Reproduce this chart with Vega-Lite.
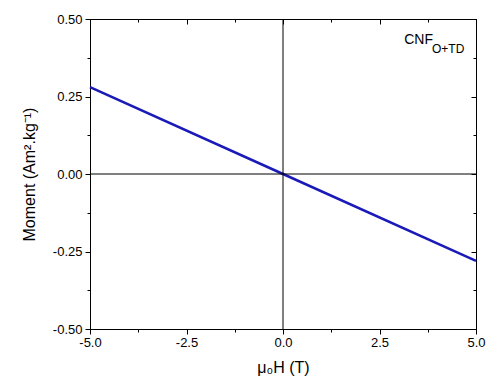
{
  "$schema": "https://vega.github.io/schema/vega-lite/v6.json",
  "width": 386,
  "height": 310,
  "autosize": {"type": "none"},
  "padding": {"left": 90, "top": 19, "right": 15, "bottom": 56},
  "background": "white",
  "config": {
    "view": {"stroke": "black", "strokeWidth": 1},
    "font": "Liberation Sans",
    "axis": {"grid": false, "domainColor": "black", "tickColor": "black", "labelColor": "black", "titleColor": "black", "labelFont": "Liberation Sans", "titleFont": "Liberation Sans", "labelFontSize": 13, "titleFontSize": 16, "titleFontWeight": "normal", "tickWidth": 1, "domainWidth": 1, "labelFlush": false, "labelExpr": "replace(datum.label, '−', '-')"}
  },
  "resolve": {"axis": {"x": "independent", "y": "independent"}},
  "layer": [
    {
      "data": {"values": [{"H": -5, "M": 0.28}, {"H": 0, "M": 0}, {"H": 5, "M": -0.28}]},
      "mark": {"type": "line", "color": "#1a1ab8", "strokeWidth": 2.5},
      "encoding": {
        "x": {"field": "H", "type": "quantitative", "scale": {"domain": [-5, 5], "nice": false, "zero": false},
              "axis": {"orient": "bottom", "values": [-5, -2.5, 0, 2.5, 5], "format": ".1f", "title": "μ₀H (T)", "tickSize": 5, "labelPadding": 2, "titlePadding": 10}},
        "y": {"field": "M", "type": "quantitative", "scale": {"domain": [-0.5, 0.5], "nice": false},
              "axis": {"orient": "left", "values": [-0.5, -0.25, 0, 0.25, 0.5], "format": ".2f", "title": "Moment (Am².kg⁻¹)", "tickSize": 5, "labelPadding": 3, "titlePadding": 15}}
      }
    },
    {
      "data": {"values": [{"v": 0}]},
      "mark": {"type": "rule", "color": "black", "strokeWidth": 1},
      "encoding": {
        "x": {"field": "v", "type": "quantitative",
              "axis": {"orient": "bottom", "values": [-3.75, -1.25, 1.25, 3.75], "labels": false, "tickSize": 3, "domain": false, "title": null}}
      }
    },
    {
      "data": {"values": [{"v": 0}]},
      "mark": {"type": "rule", "color": "black", "strokeWidth": 1},
      "encoding": {
        "y": {"field": "v", "type": "quantitative",
              "axis": {"orient": "left", "values": [-0.375, -0.125, 0.125, 0.375], "labels": false, "tickSize": 3, "domain": false, "title": null}}
      }
    },
    {
      "data": {"values": [{"x": 3.14, "y": 0.432, "t": "CNF"}]},
      "mark": {"type": "text", "fontSize": 14, "align": "left", "baseline": "middle", "color": "black", "font": "Liberation Sans"},
      "encoding": {
        "x": {"field": "x", "type": "quantitative",
              "axis": {"orient": "top", "values": [-5, -2.5, 0, 2.5, 5], "labels": false, "tickSize": -5, "title": null}},
        "y": {"field": "y", "type": "quantitative",
              "axis": {"orient": "right", "values": [-0.5, -0.25, 0, 0.25, 0.5], "labels": false, "tickSize": -5, "title": null}},
        "text": {"field": "t"}
      }
    },
    {
      "data": {"values": [{"x": 3.86, "y": 0.403, "t": "O+TD"}]},
      "mark": {"type": "text", "fontSize": 12, "align": "left", "baseline": "middle", "color": "black", "font": "Liberation Sans"},
      "encoding": {
        "x": {"field": "x", "type": "quantitative",
              "axis": {"orient": "top", "values": [-3.75, -1.25, 1.25, 3.75], "labels": false, "tickSize": -3, "domain": false, "title": null}},
        "y": {"field": "y", "type": "quantitative",
              "axis": {"orient": "right", "values": [-0.375, -0.125, 0.125, 0.375], "labels": false, "tickSize": -3, "domain": false, "title": null}},
        "text": {"field": "t"}
      }
    }
  ]
}
